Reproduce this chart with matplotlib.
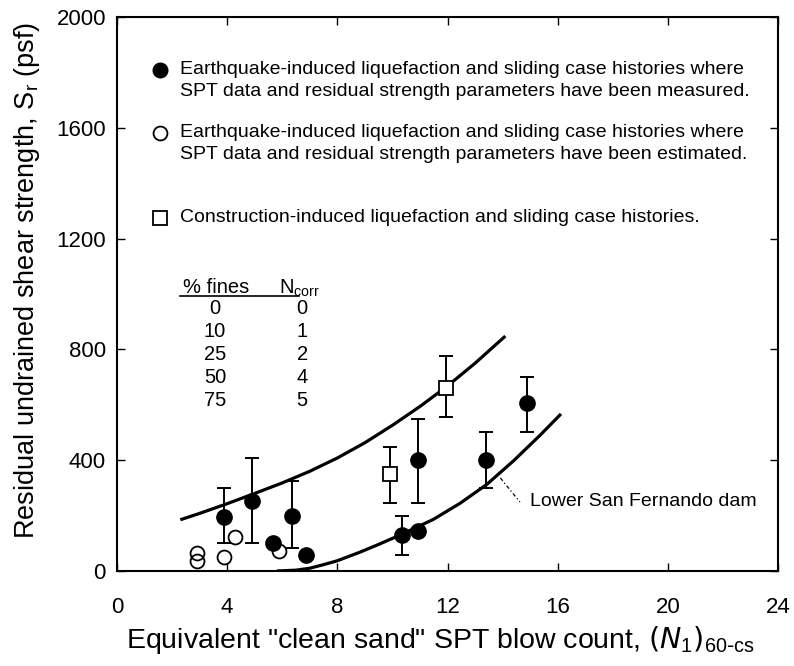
import numpy as np
import matplotlib
matplotlib.use("Agg")
import matplotlib.pyplot as plt

plt.rcParams['font.family'] = ['Liberation Sans', 'DejaVu Sans']

# ---- data ----
filled_x = [3.9, 4.9, 5.65, 6.35, 6.86, 10.34, 10.92, 10.92, 13.4, 14.9]
filled_y = [194, 254, 102, 199, 58, 130, 146, 401, 401, 608]
filled_lo = [100, 100, None, 82, None, 58, None, 244, 299, 503]
filled_hi = [299, 407, None, 326, None, 199, None, 549, 503, 701]

open_x = [2.89, 2.89, 3.9, 4.28, 5.89]
open_y = [64, 36, 52, 122, 73]

square_x = [9.91, 11.93]
square_y = [350, 660]
square_lo = [244, 555]
square_hi = [447, 776]

upper_x = [2.3, 3.0, 4.0, 5.0, 6.0, 7.0, 8.0, 9.0, 10.0, 11.0, 12.0, 13.0, 14.1]
upper_y = [185, 208, 243, 280, 318, 360, 408, 463, 526, 594, 668, 750, 848]

lower_x = [5.8, 6.5, 7.0, 7.5, 8.0, 8.82, 9.5, 10.28, 11.48, 12.45, 13.42, 14.4, 15.36, 16.12]
lower_y = [0, 3, 10, 23, 37, 68, 96, 130, 186, 244, 312, 398, 490, 567]

x_ticks = [0, 4, 8, 12, 16, 20, 24]
y_ticks = [0, 400, 800, 1200, 1600, 2000]

fines_pct = ['0', '10', '25', '50', '75']
n_corr = ['0', '1', '2', '4', '5']

legend_texts = [
    ["Earthquake-induced liquefaction and sliding case histories where",
     "SPT data and residual strength parameters have been measured."],
    ["Earthquake-induced liquefaction and sliding case histories where",
     "SPT data and residual strength parameters have been estimated."],
    ["Construction-induced liquefaction and sliding case histories."],
]

# ---- figure ----
fig = plt.figure(figsize=(7.94, 6.66), dpi=100)
ax = fig.add_axes([117/794, 1 - 571/666, (778-117)/794, (571-17)/666])
ax.set_xlim(0, 24)
ax.set_ylim(0, 2000)

for s in ax.spines.values():
    s.set_linewidth(1.5)

ax.set_xticks(x_ticks)
ax.set_yticks(y_ticks)
ax.tick_params(direction='in', length=6, width=1.0, top=True, right=True,
               labelsize=16, pad=8)
ax.tick_params(axis='x', pad=19)

# curves
ax.plot(upper_x, upper_y, color='black', lw=2.3, solid_capstyle='butt',
        solid_joinstyle='round', zorder=2)
ax.plot(lower_x, lower_y, color='black', lw=2.3, solid_capstyle='butt',
        solid_joinstyle='round', zorder=2)

# error bars
def bars(xs, ys, lo, hi):
    ex, ey, el, eh = [], [], [], []
    for x, y, l, h in zip(xs, ys, lo, hi):
        if l is None:
            continue
        ex.append(x); ey.append(y); el.append(y - l); eh.append(h - y)
    ax.errorbar(ex, ey, yerr=[el, eh], fmt='none', ecolor='black',
                elinewidth=1.4, capsize=4.8, capthick=1.4, zorder=3)

bars(filled_x, filled_y, filled_lo, filled_hi)
bars(square_x, square_y, square_lo, square_hi)

ax.plot(open_x, open_y, 'o', ms=10, mfc='none', mec='black', mew=1.3, zorder=4)
ax.plot(filled_x, filled_y, 'o', ms=11, mfc='black', mec='black', zorder=5)
ax.plot(square_x, square_y, 's', ms=10, mfc='white', mec='black', mew=1.3, zorder=5)

# legend-like annotations
leg_font = ['Liberation Sans Narrow', 'Liberation Sans', 'DejaVu Sans']
mk_x = 1.56
txt_x = 2.29
ax.plot([mk_x], [1809], 'o', ms=10.5, mfc='black', mec='black')
ax.plot([mk_x], [1581], 'o', ms=10, mfc='none', mec='black', mew=1.3)
ax.plot([mk_x], [1274], 's', ms=9.5, mfc='none', mec='black', mew=1.3)
line_ys = [[1812, 1731], [1584, 1503], [1276]]
for lines, ys in zip(legend_texts, line_ys):
    for t, y in zip(lines, ys):
        ax.text(txt_x, y, t, fontsize=14, family=leg_font, ha='left', va='center')

# fines table
ax.text(3.6, 1022, '% fines', fontsize=14.5, ha='center', va='center')
ax.text(5.9, 1022, r'N$_{\mathregular{corr}}$', fontsize=14.5, ha='left', va='center')
ax.plot([2.29, 6.6], [993, 993], color='black', lw=1.2)
row_ys = [946, 863, 780, 697, 614]
for f, n, y in zip(fines_pct, n_corr, row_ys):
    ax.text(3.56, y, f, fontsize=14.5, ha='center', va='center')
    ax.text(6.72, y, n, fontsize=14.5, ha='center', va='center')

# Lower San Fernando dam annotation
ax.plot([13.92, 14.63], [336, 249], color='black', lw=0.9, ls=(0, (3, 2, 1, 2)))
ax.text(15.0, 250, 'Lower San Fernando dam', fontsize=14, family=leg_font,
        ha='left', va='center')

ax.set_xlabel(r'Equivalent "clean sand" SPT blow count, $(N_{\mathregular{1}})_{\mathregular{60\text{-}cs}}$',
              fontsize=20.5)
ax.set_ylabel(r'Residual undrained shear strength, S$_{\mathregular{r}}$ (psf)', fontsize=19.5)
ax.xaxis.set_label_coords(0.49, -0.095)
ax.yaxis.set_label_coords(-0.113, 0.525)

fig.savefig('out.png', dpi=100)
